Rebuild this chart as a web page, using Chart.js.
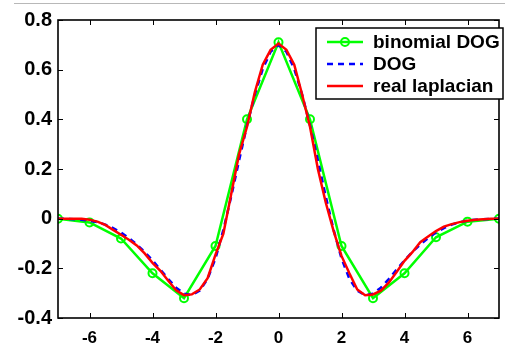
<!DOCTYPE html>
<html>
<head>
<meta charset="utf-8">
<script src="https://cdn.jsdelivr.net/npm/chart.js@4.4.0/dist/chart.umd.min.js"></script>
<style>
    html, body { margin: 0; padding: 0; background: #fff; }
    canvas { display: block; }
</style>
</head>
<body>
<canvas id="lapChart" width="505" height="348"></canvas>
<script>
const xTicks = [-6, -4, -2, 0, 2, 4, 6];
const yTicks = [-0.4, -0.2, 0, 0.2, 0.4, 0.6, 0.8];

// binomial DOG, sampled at integers
const binomX = [-7, -6, -5, -4, -3, -2, -1, 0, 1, 2, 3, 4, 5, 6, 7];
const binomY = [0, -0.015, -0.08, -0.22, -0.32, -0.11, 0.40, 0.71, 0.40, -0.11, -0.32, -0.22, -0.075, -0.012, 0];

// DOG and real laplacian, fine sampling
const fineX = [-7, -6.75, -6.5, -6.25, -6, -5.75, -5.5, -5.25, -5, -4.75, -4.5, -4.25, -4, -3.75, -3.5, -3.25,
    -3, -2.75, -2.5, -2.25, -2, -1.75, -1.5, -1.25, -1, -0.75, -0.5, -0.25, 0, 0.25, 0.5, 0.75,
    1, 1.25, 1.5, 1.75, 2, 2.25, 2.5, 2.75, 3, 3.25, 3.5, 3.75, 4, 4.25, 4.5, 4.75,
    5, 5.25, 5.5, 5.75, 6, 6.25, 6.5, 6.75, 7];
const dogY = [0, -0.001, -0.002, -0.004, -0.008, -0.014, -0.024, -0.038, -0.056, -0.078, -0.104, -0.134, -0.168, -0.205, -0.243, -0.278,
    -0.302, -0.308, -0.29, -0.242, -0.16, -0.045, 0.09, 0.235, 0.375, 0.5, 0.603, 0.672, 0.70, 0.672, 0.603, 0.5,
    0.375, 0.235, 0.09, -0.045, -0.16, -0.242, -0.29, -0.308, -0.302, -0.278, -0.243, -0.205, -0.168, -0.134, -0.104, -0.078,
    -0.056, -0.038, -0.024, -0.014, -0.008, -0.004, -0.002, -0.001, 0];
const lapY = [0, 0, 0, 0, -0.004, -0.012, -0.025, -0.045, -0.065, -0.085, -0.108, -0.14, -0.178, -0.21, -0.25, -0.288,
    -0.308, -0.305, -0.285, -0.24, -0.145, -0.06, 0.10, 0.26, 0.37, 0.51, 0.62, 0.68, 0.705, 0.68, 0.62, 0.50,
    0.37, 0.20, 0.065, -0.05, -0.15, -0.22, -0.285, -0.308, -0.305, -0.29, -0.258, -0.215, -0.17, -0.135, -0.095, -0.072,
    -0.05, -0.032, -0.022, -0.014, -0.008, -0.004, -0.002, 0, 0];

const toPoints = (xs, ys) => xs.map((x, i) => ({ x: x, y: ys[i] }));

const framePlugin = {
    id: 'frame',
    beforeDraw(chart) {
        const ctx = chart.ctx;
        ctx.save();
        ctx.fillStyle = '#fff';
        ctx.fillRect(0, 0, chart.width, chart.height);
        // thin grey rule at the very top
        ctx.strokeStyle = '#b8b8b8';
        ctx.lineWidth = 1;
        ctx.beginPath();
        ctx.moveTo(14, 3.5);
        ctx.lineTo(chart.width, 3.5);
        ctx.stroke();
        ctx.restore();
    },
    afterDatasetsDraw(chart) {
        const { ctx, chartArea: a, scales } = chart;
        ctx.save();
        ctx.strokeStyle = '#000';
        ctx.lineWidth = 1;
        ctx.beginPath();
        scales.x.ticks.forEach(t => {
            const px = Math.round(scales.x.getPixelForValue(t.value)) + 0.5;
            ctx.moveTo(px, a.bottom); ctx.lineTo(px, a.bottom - 5);
            ctx.moveTo(px, a.top); ctx.lineTo(px, a.top + 5);
        });
        scales.y.ticks.forEach(t => {
            const py = Math.round(scales.y.getPixelForValue(t.value)) + 0.5;
            ctx.moveTo(a.left, py); ctx.lineTo(a.left + 5, py);
            ctx.moveTo(a.right, py); ctx.lineTo(a.right - 5, py);
        });
        ctx.stroke();
        ctx.lineWidth = 1.6;
        ctx.strokeRect(a.left, a.top, a.right - a.left, a.bottom - a.top);
        ctx.restore();
    }
};

const legendPlugin = {
    id: 'boxLegend',
    afterDraw(chart) {
        const ctx = chart.ctx;
        const box = { x: 316, y: 28, w: 187, h: 71 };
        const rows = [42, 64, 86];
        ctx.save();
        ctx.fillStyle = '#fff';
        ctx.fillRect(box.x, box.y, box.w, box.h);
        ctx.strokeStyle = '#000';
        ctx.lineWidth = 1.5;
        ctx.strokeRect(box.x, box.y, box.w, box.h);
        ctx.font = 'bold 19px "Liberation Sans", Arial, sans-serif';
        ctx.textBaseline = 'middle';
        chart.data.datasets.forEach((ds, i) => {
            const y = rows[i];
            ctx.strokeStyle = ds.borderColor;
            ctx.lineWidth = ds.borderWidth;
            ctx.setLineDash(ds.borderDash || []);
            ctx.beginPath();
            ctx.moveTo(327, y);
            ctx.lineTo(363, y);
            ctx.stroke();
            ctx.setLineDash([]);
            if (ds.pointRadius > 0) {
                ctx.lineWidth = ds.pointBorderWidth;
                ctx.beginPath();
                ctx.arc(345, y, ds.pointRadius, 0, Math.PI * 2);
                ctx.stroke();
            }
            ctx.fillStyle = '#000';
            ctx.fillText(ds.label, 373, y + 1);
        });
        ctx.restore();
    }
};

const lapChart = document.getElementById('lapChart');
new Chart(lapChart, {
    type: 'line',
    data: {
        datasets: [{
            label: 'binomial DOG',
            data: toPoints(binomX, binomY),
            borderColor: '#00ff00',
            borderWidth: 2.5,
            pointRadius: 4,
            pointStyle: 'circle',
            pointBorderColor: '#00ff00',
            pointBackgroundColor: 'rgba(0,0,0,0)',
            pointBorderWidth: 2,
            order: 3
        }, {
            label: 'DOG',
            data: toPoints(fineX, dogY),
            borderColor: '#0000ff',
            borderWidth: 2.5,
            borderDash: [6, 5],
            pointRadius: 0,
            order: 2
        }, {
            label: 'real laplacian',
            data: toPoints(fineX, lapY),
            borderColor: '#ff0000',
            borderWidth: 2.5,
            pointRadius: 0,
            order: 1
        }]
    },
    options: {
        responsive: false,
        animation: false,
        layout: {
            padding: { top: 20, right: 2, left: 0, bottom: 0 }
        },
        plugins: {
            legend: { display: false },
            tooltip: { enabled: false }
        },
        elements: {
            line: { tension: 0 }
        },
        scales: {
            x: {
                type: 'linear',
                min: -7,
                max: 7,
                afterFit: s => { s.height = 30; },
                afterBuildTicks: s => { s.ticks = xTicks.map(v => ({ value: v })); },
                grid: { display: false, drawTicks: false },
                border: { display: false },
                ticks: {
                    padding: 10,
                    color: '#000',
                    maxRotation: 0,
                    font: { family: '"Liberation Sans", Arial, sans-serif', size: 17, weight: 'bold' },
                    callback: v => String(v)
                }
            },
            y: {
                type: 'linear',
                min: -0.4,
                max: 0.8,
                afterFit: s => { s.width = 58; },
                afterBuildTicks: s => { s.ticks = yTicks.map(v => ({ value: v })); },
                grid: { display: false, drawTicks: false },
                border: { display: false },
                ticks: {
                    padding: 6,
                    color: '#000',
                    font: { family: '"Liberation Sans", Arial, sans-serif', size: 20, weight: 'bold' },
                    callback: v => String(Math.round(v * 10) / 10)
                }
            }
        }
    },
    plugins: [framePlugin, legendPlugin]
});
</script>
</body>
</html>
